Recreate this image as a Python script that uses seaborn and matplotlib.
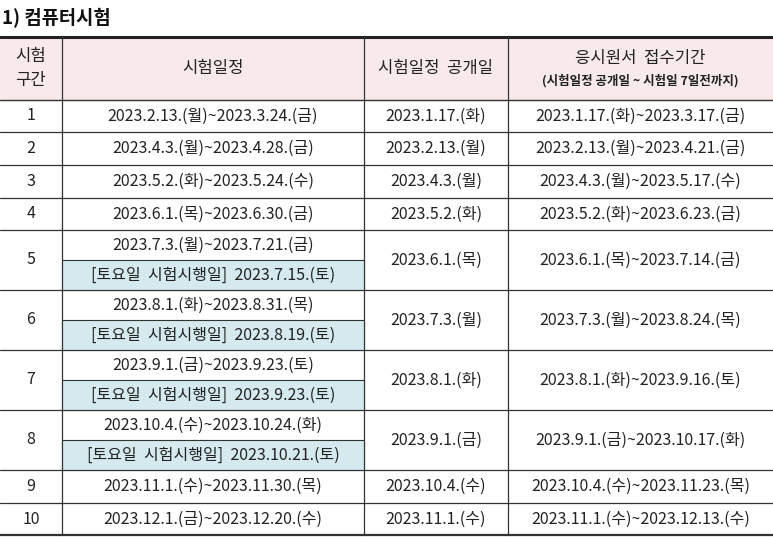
import matplotlib
matplotlib.use("Agg")
import matplotlib.pyplot as plt
import matplotlib.patches as mp
import seaborn as sns

sns.set_theme(style="white")
FONT = "Noto Sans CJK KR"
plt.rcParams["font.family"] = FONT

title = "1) 컴퓨터시험"
headers = ["시험\n구간", "시험일정", "시험일정  공개일", "응시원서  접수기간"]
header_sub = "(시험일정 공개일 ~ 시험일 7일전까지)"
periods = ["1", "2", "3", "4", "5", "6", "7", "8", "9", "10"]
schedules = ["2023.2.13.(월)~2023.3.24.(금)", "2023.4.3.(월)~2023.4.28.(금)",
             "2023.5.2.(화)~2023.5.24.(수)", "2023.6.1.(목)~2023.6.30.(금)",
             "2023.7.3.(월)~2023.7.21.(금)", "2023.8.1.(화)~2023.8.31.(목)",
             "2023.9.1.(금)~2023.9.23.(토)", "2023.10.4.(수)~2023.10.24.(화)",
             "2023.11.1.(수)~2023.11.30.(목)", "2023.12.1.(금)~2023.12.20.(수)"]
saturdays = [None, None, None, None,
             "[토요일  시험시행일]  2023.7.15.(토)", "[토요일  시험시행일]  2023.8.19.(토)",
             "[토요일  시험시행일]  2023.9.23.(토)", "[토요일  시험시행일]  2023.10.21.(토)",
             None, None]
open_dates = ["2023.1.17.(화)", "2023.2.13.(월)", "2023.4.3.(월)", "2023.5.2.(화)",
              "2023.6.1.(목)", "2023.7.3.(월)", "2023.8.1.(화)", "2023.9.1.(금)",
              "2023.10.4.(수)", "2023.11.1.(수)"]
apply_periods = ["2023.1.17.(화)~2023.3.17.(금)", "2023.2.13.(월)~2023.4.21.(금)",
                 "2023.4.3.(월)~2023.5.17.(수)", "2023.5.2.(화)~2023.6.23.(금)",
                 "2023.6.1.(목)~2023.7.14.(금)", "2023.7.3.(월)~2023.8.24.(목)",
                 "2023.8.1.(화)~2023.9.16.(토)", "2023.9.1.(금)~2023.10.17.(화)",
                 "2023.10.4.(수)~2023.11.23.(목)", "2023.11.1.(수)~2023.12.13.(수)"]

W, H = 773, 537
fig = plt.figure(figsize=(W / 100, H / 100), dpi=100)
ax = fig.add_axes([0, 0, 1, 1])
ax.set_xlim(0, W)
ax.set_ylim(H, 0)
ax.axis("off")

cols = [0, 62, 364, 508, 773]
top, head_bot = 37, 100
row_h = [32, 33, 33, 32, 60, 60, 60, 60, 33, 32]
fs = 11.5
tc = "#222222"

ax.text(2, 18, title, fontsize=13.5, fontweight="bold", va="center", ha="left", color="#111111")
ax.add_patch(mp.Rectangle((0, top), W, head_bot - top, color="#f8eaea", zorder=0))
cx = [(cols[i] + cols[i + 1]) / 2 for i in range(4)]
hm = (top + head_bot) / 2
for i, h in enumerate(headers):
    if i == 3:
        ax.text(cx[i], hm - 10, h, fontsize=12, ha="center", va="center", color=tc)
        ax.text(cx[i], hm + 12, header_sub, fontsize=9, fontweight="bold",
                ha="center", va="center", color=tc)
    else:
        ax.text(cx[i], hm, h, fontsize=12, ha="center", va="center", color=tc, linespacing=1.5)

y = head_bot
lc = "#333333"
for i in range(len(periods)):
    y0, y1 = y, y + row_h[i]
    mid = (y0 + y1) / 2
    ax.text(cx[0], mid, periods[i], fontsize=fs, ha="center", va="center", color=tc)
    ax.text(cx[2], mid, open_dates[i], fontsize=fs, ha="center", va="center", color=tc)
    ax.text(cx[3], mid, apply_periods[i], fontsize=fs, ha="center", va="center", color=tc)
    if saturdays[i]:
        ym = mid
        ax.add_patch(mp.Rectangle((cols[1], ym), cols[2] - cols[1], y1 - ym, color="#d5eaee", zorder=0))
        ax.plot([cols[1], cols[2]], [ym, ym], color=lc, lw=0.8)
        ax.text(cx[1], (y0 + ym) / 2, schedules[i], fontsize=fs, ha="center", va="center", color=tc)
        ax.text(cx[1], (ym + y1) / 2, saturdays[i], fontsize=fs, ha="center", va="center", color=tc)
    else:
        ax.text(cx[1], mid, schedules[i], fontsize=fs, ha="center", va="center", color=tc)
    ax.plot([0, W], [y1, y1], color=lc, lw=0.9 if i < len(periods) - 1 else 1.6)
    y = y1

ax.plot([0, W], [top, top], color="#222222", lw=2.2)
ax.plot([0, W], [head_bot, head_bot], color=lc, lw=1.0)
for c in cols[1:4]:
    ax.plot([c, c], [top, y], color=lc, lw=0.9)

fig.savefig("out.png", dpi=100)
